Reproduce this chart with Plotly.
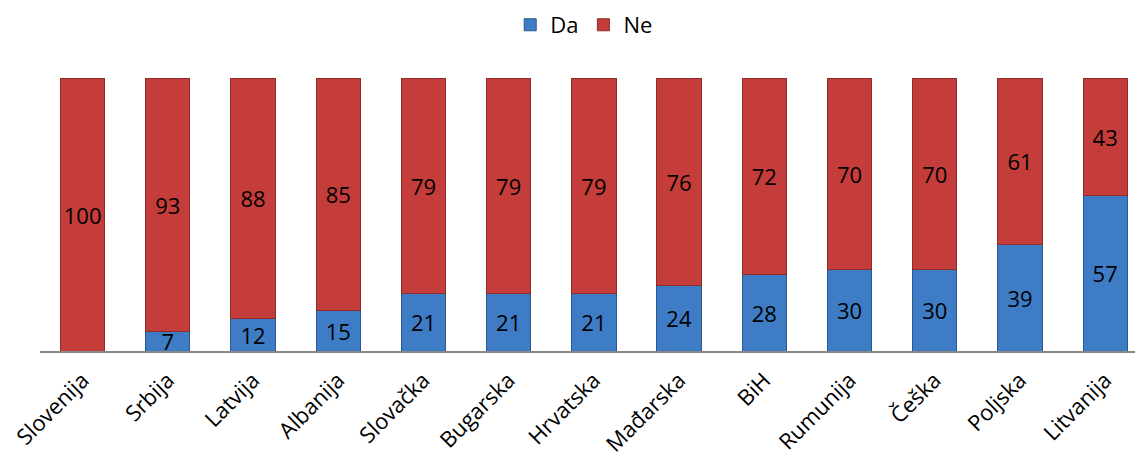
import plotly.graph_objects as go

countries = ["Slovenija", "Srbija", "Latvija", "Albanija", "Slovačka", "Bugarska", "Hrvatska",
             "Mađarska", "BiH", "Rumunija", "Češka", "Poljska", "Litvanija"]
da = [0, 7, 12, 15, 21, 21, 21, 24, 28, 30, 30, 39, 57]
ne = [100, 93, 88, 85, 79, 79, 79, 76, 72, 70, 70, 61, 43]

font_family = "Open Sans, Noto Sans, sans-serif"

fig = go.Figure()
fig.add_trace(go.Bar(
    x=countries, y=da, name="Da",
    marker=dict(color="#3E7CC6", line=dict(color="#2A5790", width=1)),
    text=[str(v) if v > 0 else "" for v in da],
    textposition="inside", insidetextanchor="middle", textangle=0, constraintext="none",
    textfont=dict(color="black", size=22, family=font_family),
    cliponaxis=False, width=0.52,
))
fig.add_trace(go.Bar(
    x=countries, y=ne, name="Ne",
    marker=dict(color="#C53D3B", line=dict(color="#8E2A28", width=1)),
    text=[str(v) for v in ne],
    textposition="inside", insidetextanchor="middle", textangle=0, constraintext="none",
    textfont=dict(color="black", size=22, family=font_family),
    width=0.52,
))

fig.update_layout(
    barmode="stack",
    width=1135, height=454,
    margin=dict(l=40, r=0, t=78, b=103, autoexpand=False),
    paper_bgcolor="white", plot_bgcolor="white",
    font=dict(family=font_family, size=21, color="black"),
    legend=dict(orientation="h", x=0.497, xanchor="center", yref="container", y=0.945,
                yanchor="middle", font=dict(size=22), traceorder="normal"),
    xaxis=dict(range=[-0.5, 12.35], tickangle=-45, showline=True, linecolor="#888888",
               linewidth=1.5, ticks="", showgrid=False, tickfont=dict(size=22),
               ticklabelstandoff=6, automargin=False),
    yaxis=dict(range=[0, 100], visible=False, showgrid=False),
)

fig.write_html("out.html")
